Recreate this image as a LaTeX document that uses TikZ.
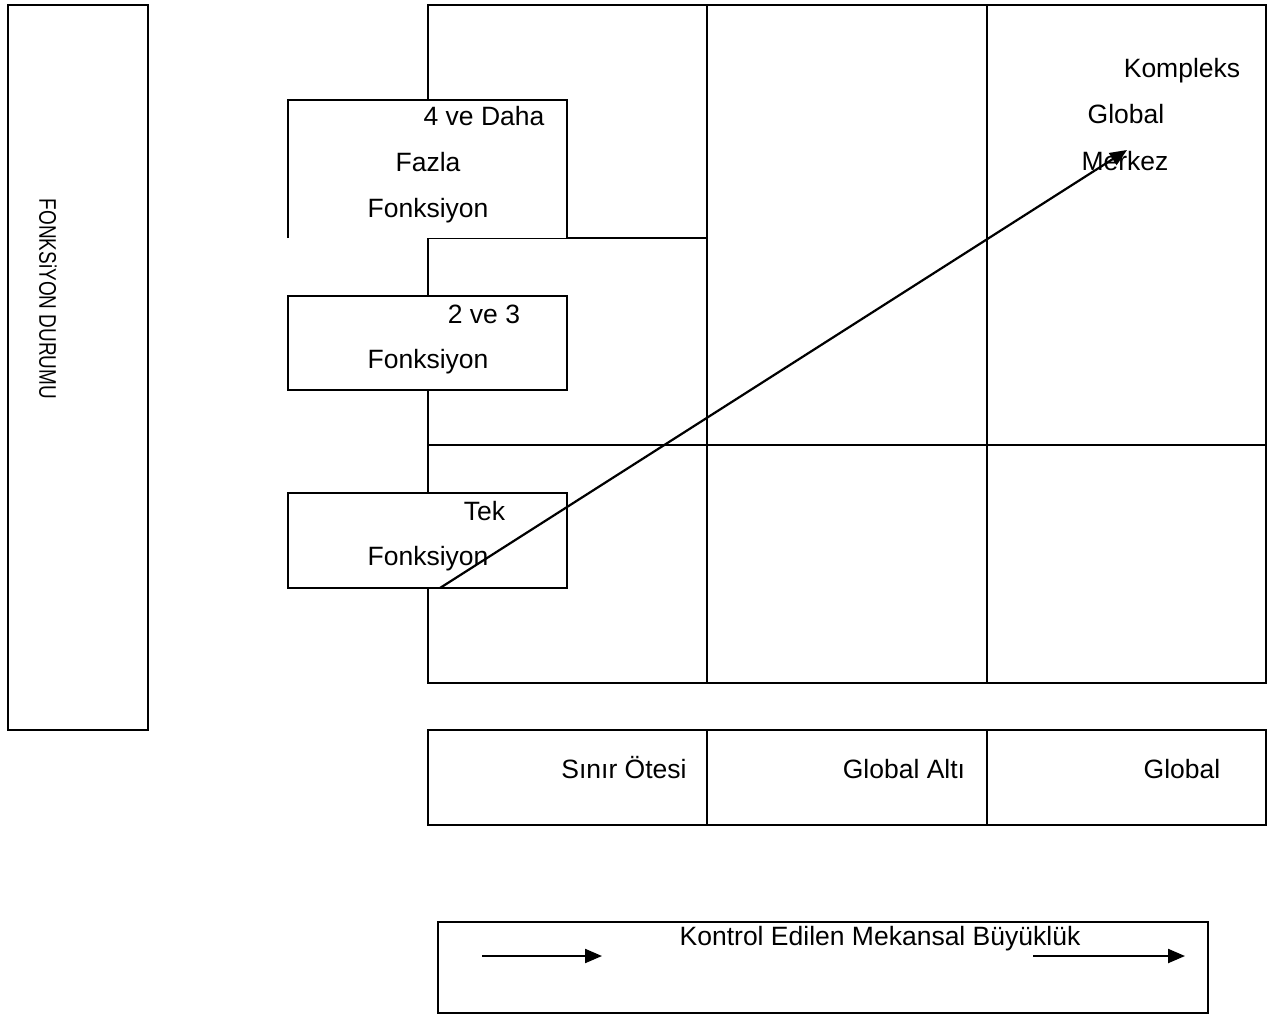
\documentclass[tikz,border=0pt]{standalone}
\usepackage{fontspec}
\setmainfont{Liberation Sans}
\usetikzlibrary{arrows.meta}
\begin{document}
\begin{tikzpicture}[x=1pt, y=-1pt, line width=2.2pt, line join=miter, >={Triangle[length=17pt,width=14pt]},
	yazi/.style={anchor=base, inner sep=0pt, font=\fontsize{26.5}{30}\selectfont},
	kutu/.style={draw, fill=white}]
	\useasboundingbox (0,0) rectangle (1278,1015);
	% sol kutu
	\draw (8,5) rectangle (148,730);
	\node[yazi, anchor=center, rotate=-90, font=\fontsize{24}{28}\selectfont] (durum) at (48,299) {\scalebox{0.79}[1]{FONKSiYON DURUMU}};
	% ana tablo
	\draw (428,5) rectangle (1266,683);
	\draw (707,5) -- (707,683) (987,5) -- (987,683) (428,445) -- (1266,445) (428,238) -- (707,238);
	% fonksiyon kutulari
	\fill[white] (288,100) rectangle (567,238);
	\draw (288,238) -- (288,100) -- (567,100) -- (567,238);
	\draw[kutu] (288,296) rectangle (567,390);
	\draw[kutu] (288,493) rectangle (567,588);
	\node[yazi] (dortA) at (484,125) {4 ve Daha};
	\node[yazi] (dortB) at (428,171) {Fazla};
	\node[yazi] (dortC) at (428,217) {Fonksiyon};
	\node[yazi] (ikiA) at (484,323) {2 ve 3};
	\node[yazi] (ikiB) at (428,368) {Fonksiyon};
	\node[yazi] (tekA) at (484.5,520) {Tek};
	\node[yazi] (tekB) at (428,565) {Fonksiyon};
	\node[yazi] (kompA) at (1182,77) {Kompleks};
	\node[yazi] (kompB) at (1126,123) {Global};
	\node[yazi] (kompC) at (1125,170) {Merkez};
	% ok
	\coordinate (bas) at (440,588);
	\coordinate (uc) at (1127,150);
	\draw[->] (bas) -- (uc);
	% alt satir
	\draw (428,730) rectangle (1266,825);
	\draw (707,730) -- (707,825) (987,730) -- (987,825);
	\node[yazi] (sinir) at (624,778) {Sınır Ötesi};
	\node[yazi] (altı) at (904,778) {Global Altı};
	\node[yazi] (glob) at (1182,778) {Global};
	% kontrol kutusu
	\draw (438,922) rectangle (1208,1013);
	\node[yazi] (kontrol) at (880,945) {Kontrol Edilen Mekansal Büyüklük};
	\coordinate (o1) at (482,956);
	\coordinate (o2) at (602,956);
	\coordinate (o3) at (1033,956);
	\coordinate (o4) at (1185,956);
	\draw[->] (o1) -- (o2);
	\draw[->] (o3) -- (o4);
\end{tikzpicture}
\end{document}
